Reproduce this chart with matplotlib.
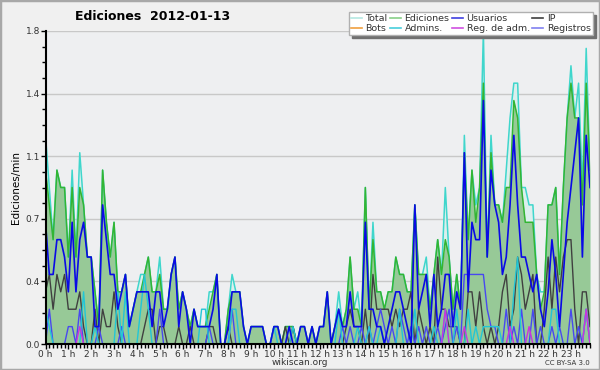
import numpy as np
import matplotlib
matplotlib.use("Agg")
import matplotlib.pyplot as plt
from matplotlib.lines import Line2D
from matplotlib.patches import Rectangle
from matplotlib.ticker import MultipleLocator, FixedLocator, FuncFormatter

# edits per 10-minute bin, 6 bins per hour (0 h .. 23 h)
ediciones = [10, 8, 6, 10, 9, 9,   5, 9, 5, 9, 8, 5,   5, 3, 1, 10, 7, 5,   7, 3, 3, 4, 1, 2,
             3, 3, 4, 5, 3, 3,     4, 2, 2, 4, 5, 2,   3, 2, 1, 2, 1, 1,    1, 2, 3, 4, 0, 0,
             2, 3, 3, 3, 1, 0,     1, 1, 1, 1, 0, 0,   1, 1, 0, 1, 1, 1,    0, 1, 1, 0, 1, 0,
             1, 1, 3, 0, 1, 2,     1, 2, 5, 2, 2, 1,   9, 2, 6, 3, 3, 2,    3, 3, 5, 4, 4, 3,
             3, 8, 4, 4, 4, 2,     4, 6, 4, 6, 5, 2,   4, 2, 11, 6, 10, 7,  9, 15, 5, 11, 8, 8,
             7, 9, 9, 14, 13, 9,   7, 7, 7, 4, 2, 3,   8, 8, 9, 4, 9, 13,   15, 13, 13, 8, 15, 10]
total = [12, 9, 6, 10, 9, 9,   5, 10, 5, 11, 8, 5,   5, 3, 1, 10, 7, 5,   7, 3, 3, 4, 1, 2,
         3, 4, 4, 5, 3, 3,     5, 2, 2, 4, 5, 2,     3, 2, 1, 2, 1, 1,    1, 3, 3, 4, 0, 0,
         2, 4, 3, 3, 1, 0,     1, 1, 1, 1, 0, 0,     1, 1, 0, 1, 1, 1,    0, 1, 1, 0, 1, 0,
         1, 1, 3, 0, 1, 3,     1, 2, 5, 2, 3, 1,     9, 2, 7, 3, 3, 2,    3, 3, 5, 4, 4, 3,
         3, 8, 4, 4, 5, 2,     4, 6, 4, 9, 5, 2,     4, 2, 12, 6, 10, 8,  9, 18, 5, 12, 8, 8,
         7, 10, 13, 15, 15, 9, 9, 8, 8, 4, 3, 3,     8, 8, 9, 4, 9, 13,   16, 13, 15, 9, 17, 10]
usuarios = [7, 4, 4, 6, 6, 5,   3, 7, 3, 6, 7, 5,   5, 1, 1, 8, 6, 4,   4, 2, 3, 4, 1, 2,
            3, 3, 3, 3, 1, 3,   3, 1, 2, 4, 5, 1,   3, 2, 0, 2, 1, 1,   1, 1, 2, 4, 0, 0,
            1, 3, 3, 3, 1, 0,   1, 1, 1, 1, 0, 0,   1, 1, 0, 0, 1, 0,   0, 1, 1, 0, 1, 0,
            1, 1, 3, 0, 1, 2,   1, 1, 3, 1, 1, 1,   7, 2, 2, 1, 1, 0,   1, 2, 3, 3, 2, 1,
            0, 8, 2, 3, 4, 1,   4, 1, 2, 4, 4, 1,   3, 2, 11, 3, 7, 6,  6, 14, 5, 10, 8, 7,
            4, 5, 8, 12, 8, 5,  5, 4, 3, 4, 2, 1,   3, 6, 4, 1, 4, 7,   9, 11, 13, 5, 12, 9]
ip = [3, 4, 2, 4, 3, 4,   2, 2, 2, 3, 1, 0,   0, 2, 0, 2, 1, 1,   3, 1, 0, 0, 0, 0,
      0, 0, 1, 2, 2, 0,   1, 1, 0, 0, 0, 1,   0, 0, 1, 0, 0, 0,   0, 1, 1, 0, 0, 0,
      1, 0, 0, 0, 0, 0,   0, 0, 0, 0, 0, 0,   0, 0, 0, 1, 0, 1,   0, 0, 0, 0, 0, 0,
      0, 0, 0, 0, 0, 0,   0, 1, 2, 1, 1, 0,   2, 0, 4, 2, 2, 2,   2, 1, 2, 1, 2, 2,
      3, 0, 2, 1, 0, 1,   0, 5, 2, 2, 1, 1,   1, 0, 0, 3, 3, 1,   3, 1, 0, 1, 0, 1,
      3, 4, 1, 2, 5, 4,   2, 3, 4, 0, 0, 2,   5, 2, 5, 3, 5, 6,   6, 2, 0, 3, 3, 1]
bots = [0] * 144
admins = [2, 1, 0, 0, 0, 0,   0, 0, 0, 0, 3, 0,   0, 1, 0, 0, 0, 0,   0, 3, 0, 3, 0, 0,
          0, 2, 4, 2, 0, 0,   0, 0, 0, 0, 0, 0,   0, 0, 0, 0, 0, 2,   2, 0, 0, 0, 0, 0,
          0, 2, 2, 0, 0, 0,   0, 0, 0, 0, 0, 0,   1, 0, 0, 0, 0, 1,   0, 0, 0, 0, 0, 0,
          0, 0, 0, 0, 0, 2,   0, 0, 0, 0, 1, 0,   0, 1, 0, 0, 1, 0,   0, 0, 0, 2, 0, 0,
          0, 2, 0, 0, 0, 0,   1, 0, 0, 2, 0, 0,   2, 0, 0, 2, 0, 1,   0, 1, 1, 1, 1, 1,
          0, 0, 0, 3, 5, 0,   0, 0, 0, 0, 0, 0,   0, 2, 2, 0, 0, 0,   0, 0, 0, 0, 2, 0]
reg_adm = [0, 0, 0, 0, 0, 0,   0, 0, 0, 1, 0, 0,   0, 0, 0, 0, 0, 0,   0, 0, 0, 0, 0, 0,
           0, 0, 0, 0, 0, 0,   0, 0, 0, 0, 0, 0,   0, 0, 0, 0, 0, 0,   0, 0, 0, 0, 0, 0,
           0, 0, 0, 0, 0, 0,   0, 0, 0, 0, 0, 0,   0, 0, 0, 0, 0, 0,   0, 0, 0, 0, 0, 0,
           0, 0, 0, 0, 0, 0,   0, 0, 0, 0, 0, 0,   0, 0, 0, 0, 0, 0,   0, 0, 0, 0, 0, 0,
           0, 0, 0, 0, 0, 0,   0, 0, 0, 2, 0, 0,   0, 0, 1, 0, 0, 0,   0, 0, 0, 0, 0, 0,
           0, 0, 1, 0, 0, 0,   0, 1, 0, 0, 0, 0,   0, 0, 0, 0, 0, 0,   0, 0, 0, 0, 2, 0]
registros = [0, 2, 0, 0, 0, 0,   1, 1, 0, 2, 0, 0,   0, 0, 1, 0, 0, 0,   0, 0, 1, 0, 0, 0,
             0, 0, 0, 0, 0, 0,   2, 0, 0, 0, 0, 0,   0, 0, 0, 0, 0, 0,   0, 1, 0, 0, 0, 0,
             0, 2, 0, 0, 0, 0,   0, 0, 0, 0, 0, 0,   0, 0, 0, 0, 0, 0,   0, 0, 0, 0, 0, 0,
             0, 0, 0, 0, 0, 0,   1, 0, 1, 0, 0, 1,   0, 1, 0, 1, 2, 1,   0, 1, 0, 2, 1, 0,
             1, 0, 1, 0, 1, 0,   0, 1, 0, 1, 2, 0,   1, 0, 4, 4, 4, 4,   4, 4, 2, 1, 1, 0,
             0, 2, 0, 1, 0, 2,   0, 0, 2, 0, 1, 0,   0, 1, 0, 1, 0, 0,   2, 0, 1, 0, 2, 0]

hours = np.arange(len(ediciones)) / 6.0
to_min = lambda v: np.array(v) / 10.0   # 10-minute bins -> edits per minute

fig = plt.figure(figsize=(6, 3.7), dpi=100, facecolor='#f0f0f0')
fig.patches.append(Rectangle((0, 0), 1, 1, transform=fig.transFigure, fill=False,
                             edgecolor='#a8a8a8', linewidth=2.5))
ax = fig.add_axes([45.5 / 600, 26 / 370, 544.5 / 600, 313 / 370])
ax.set_facecolor('#eeeff1')

# filled areas
ax.fill_between(hours, to_min(total), color='#dcefed', lw=0, zorder=1)
ax.fill_between(hours, to_min(ediciones), color='#97c997', lw=0, zorder=2)
ax.plot(hours, to_min(total), color='#3fd6cc', lw=1.1, zorder=3)
ax.plot(hours, to_min(ediciones), color='#33b533', lw=1.1, zorder=4)
ax.plot(hours, to_min(ip), color='#404040', lw=1.0, zorder=5)
ax.plot(hours, to_min(registros), color='#4848f0', lw=1.0, zorder=5)
ax.plot(hours, to_min(admins), color='#22c6d6', lw=1.0, zorder=5)
ax.plot(hours, to_min(reg_adm), color='#cc33dd', lw=1.0, zorder=5)
ax.plot(hours, to_min(usuarios), color='#0a0ae6', lw=1.2, zorder=6)

ax.set_xlim(0, hours[-1])
ax.set_ylim(0, 1.8)
ax.yaxis.set_major_locator(FixedLocator(np.linspace(0, 1.8, 6)))
ax.yaxis.set_minor_locator(MultipleLocator(0.09))
ax.yaxis.set_major_formatter(FuncFormatter(lambda v, p: '%.1f' % v))
ax.xaxis.set_major_locator(FixedLocator(np.arange(24)))
ax.xaxis.set_minor_locator(MultipleLocator(1 / 6))
ax.xaxis.set_major_formatter(FuncFormatter(lambda v, p: '%d h' % round(v)))
ax.grid(axis='y', color='#c8c8c8', lw=1.0)
ax.set_axisbelow(True)
for s in ['top', 'right']:
    ax.spines[s].set_visible(False)
for s in ['left', 'bottom']:
    ax.spines[s].set_linewidth(1.5)
    ax.spines[s].set_zorder(10)
ax.tick_params(axis='both', which='major', length=3.5, width=1, labelsize=6.5,
               labelcolor='#333333', pad=0.5)
ax.tick_params(axis='both', which='minor', length=3, width=1)
ax.set_ylabel('Ediciones/min', fontsize=7.5, labelpad=3)

fig.text(0.255, 0.955, 'Ediciones  2012-01-13', fontsize=9, fontweight='bold',
         ha='center', va='center')
fig.text(0.5, 0.02, 'wikiscan.org', fontsize=6.5, color='#333333', ha='center', va='center')
fig.text(0.983, 0.02, 'CC BY-SA 3.0', fontsize=5, color='#333333', ha='right', va='center')

labels = ['Total', 'Bots', 'Ediciones', 'Admins.', 'Usuarios', 'Reg. de adm.', 'IP', 'Registros']
colors = ['#b4e8e2', '#f0a040', '#88d088', '#48cedc', '#4040e0', '#d050e0', '#404040', '#8080f0']
handles = [Line2D([], [], color=c, lw=1.2) for c in colors]
leg = fig.legend(handles, labels, ncol=4, loc='upper right', bbox_to_anchor=(593 / 600, 1 - 12 / 370),
                 fontsize=6.8, frameon=True, fancybox=False, handlelength=1.1, handletextpad=0.4,
                 columnspacing=0.3, labelspacing=0.05, borderpad=0.25, borderaxespad=0,
                 shadow={'color': '#707070', 'alpha': 1})
leg.get_frame().set_edgecolor('#b0b0b0')
leg.get_frame().set_linewidth(1)
for t in leg.get_texts():
    t.set_color('#333333')

fig.savefig('out.png', dpi=100, facecolor=fig.get_facecolor())
